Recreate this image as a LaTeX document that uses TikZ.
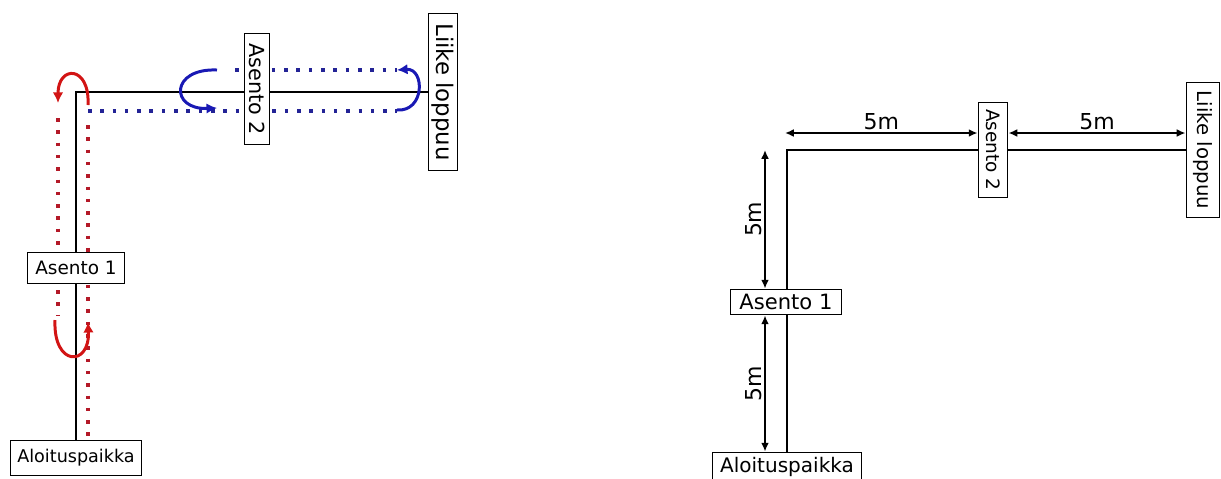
\documentclass[tikz,border=0pt]{standalone}
\usepackage{fontspec}
\setmainfont{DejaVu Sans}
\usetikzlibrary{positioning,calc,backgrounds,arrows.meta}

\definecolor{redarc}{RGB}{210,20,20}
\definecolor{reddot}{RGB}{180,25,40}
\definecolor{bluearc}{RGB}{25,25,180}
\definecolor{bluedot}{RGB}{35,35,150}
\newcommand\setfs[1]{\fontsize{#1}{#1}\selectfont}

\begin{document}
\begin{tikzpicture}[x=0.02cm,y=-0.02cm]
    \tikzset{place/.style={draw, fill=white, line width=0.6pt, inner sep=0pt},
      track/.style={line width=1.1pt},
      dotline/.style={line width=2pt, dash pattern=on 2pt off 5pt},
      turn/.style={line width=1.7pt, -{Latex[length=6pt,width=6pt]}},
      dim/.style={line width=1pt, {Latex[length=5pt,width=4.5pt]}-{Latex[length=5pt,width=4.5pt]}},
      dimlabel/.style={font=\setfs{12.5}, inner sep=1.5pt}
    }
    \useasboundingbox (0,0) rectangle (1221,478);

    % left: the path that is walked
    \node[place, minimum width=74.8pt, minimum height=19.8pt, font=\setfs{10}] (L-start) at (76,458) {Aloituspaikka};
    \node[place, minimum width=55pt, minimum height=17.6pt, font=\setfs{10.5}] (L-pos1) at (76,268) {Asento 1};
    \node[place, rotate=-90, minimum width=63.5pt, minimum height=14.7pt, font=\setfs{11.8}] (L-pos2) at (257,89) {Asento 2};
    \node[place, rotate=-90, minimum width=89.6pt, minimum height=16.4pt, font=\setfs{13}] (L-end) at (443,92) {Liike loppuu};

    \begin{pgfonlayer}{background}
      \draw[track] (L-start.north) |- (L-end.south);
      \draw[dotline, reddot] (88,125) -- (88,440);
      \draw[dotline, reddot] (58,118) -- (58,315);
      \draw[dotline, bluedot] (88,111) -- (397,111);
      \draw[dotline, bluedot] (235,70) -- (397,70);
    \end{pgfonlayer}

    \draw[turn, redarc] (88,105) .. controls (90,65) and (58,65) .. (58,103);
    \draw[turn, redarc] (55,320) .. controls (53,367) and (90,367) .. (88,322);
    \draw[turn, bluearc] (217,70) .. controls (170,68) and (170,110) .. (217,108);
    \draw[turn, bluearc] (397,110) .. controls (425,112) and (425,68) .. (397,70);

    % right: distances
    \node[place, minimum width=84.5pt, minimum height=17pt, font=\setfs{11.4}] (R-start) at (787,467) {Aloituspaikka};
    \node[place, minimum width=63pt, minimum height=14.7pt, font=\setfs{12}] (R-pos1) at (786,302) {Asento 1};
    \node[place, rotate=-90, minimum width=54.4pt, minimum height=17pt, font=\setfs{10.5}] (R-pos2) at (993,150) {Asento 2};
    \node[place, rotate=-90, minimum width=77pt, minimum height=19.3pt, font=\setfs{11.2}] (R-end) at (1203,150) {Liike loppuu};

    \begin{pgfonlayer}{background}
      \draw[track] (R-start.north) |- (R-end.south);
    \end{pgfonlayer}

    \coordinate (d1) at (785,133);
    \coordinate (d3) at (765,150);
    \draw[dim] (d1) -- (d1 -| R-pos2.south) node[midway, above, dimlabel] {5m};
    \draw[dim] (d1 -| R-pos2.north) -- (d1 -| R-end.south) node[midway, above, dimlabel] {5m};
    \draw[dim] (d3) -- (d3 |- R-pos1.north) node[midway, rotate=90, above, dimlabel] {5m};
    \draw[dim] (d3 |- R-pos1.south) -- (d3 |- R-start.north) node[midway, rotate=90, above, dimlabel] {5m};
  \end{tikzpicture}
\end{document}
